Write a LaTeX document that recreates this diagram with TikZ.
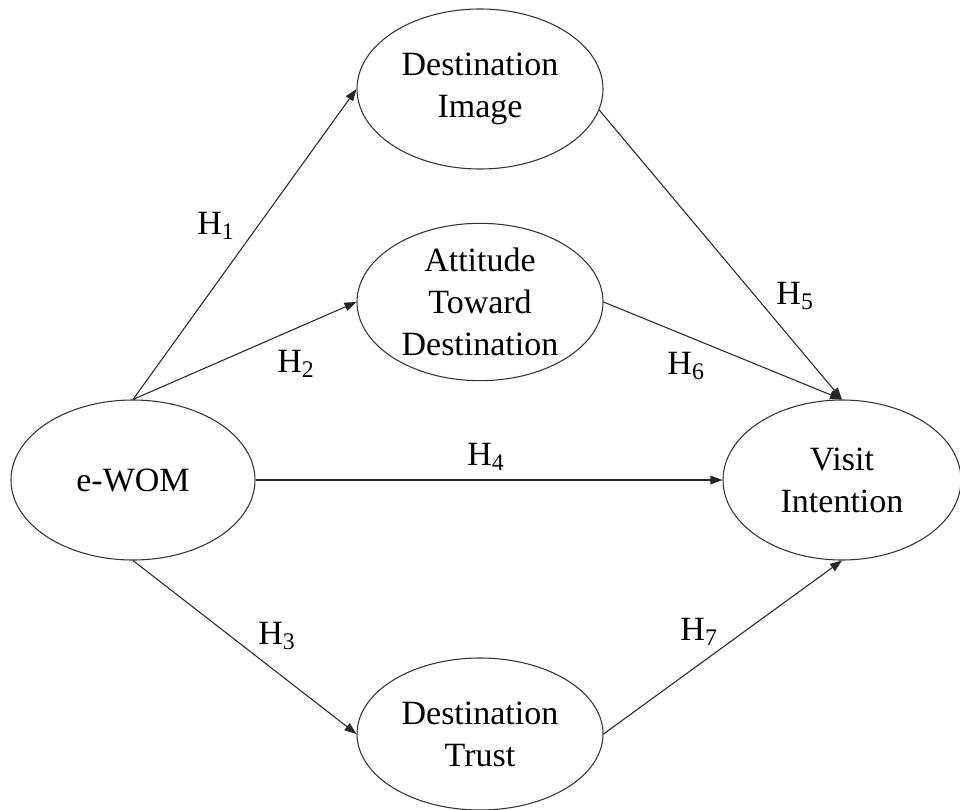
\documentclass[tikz,border=0pt]{standalone}
\usepackage{fontspec}
\setmainfont{Liberation Serif}
\usetikzlibrary{shapes.geometric,arrows.meta}
\tikzstyle{latent} = [ellipse, draw=black!80, line width=0.8pt, inner sep=-4pt, align=center, font=\fontsize{25.5}{31.5}\selectfont]
\tikzstyle{link} = [draw=black!85, line width=0.8pt, -{Triangle[length=9pt,width=6.5pt]}]
\tikzstyle{hyp} = [font=\fontsize{25.5}{31.5}\selectfont]

\begin{document}
\begin{tikzpicture}[x=0.75pt, y=-0.75pt]
\useasboundingbox (0,0) rectangle (960,810);
% Place nodes
\node [latent, minimum width=183pt, minimum height=120pt] (wom) at (133,480) {e-WOM};
\node [latent, minimum width=184.5pt, minimum height=120pt] (img) at (480,89) {Destination\\Image};
\node [latent, minimum width=184.5pt, minimum height=118pt] (att) at (480,302) {Attitude\\Toward\\Destination};
\node [latent, minimum width=184.5pt, minimum height=114pt] (trust) at (480,734) {Destination\\Trust};
\node [latent, minimum width=178.5pt, minimum height=120pt] (visit) at (842,480) {Visit\\Intention};
% Draw edges
\path [link] (wom.north) -- (img.west);
\path [link] (wom.north) -- (att.west);
\path [link] (wom.south) -- (trust.west);
\path [link] (wom.east) -- (visit.west);
\path [link] (img.-10) -- (visit.north);
\path [link] (att.east) -- (visit.north);
\path [link] (trust.east) -- (visit.south);
% Hypothesis labels
\node [hyp] (h1) at (216,226) {H\textsubscript{1}};
\node [hyp] (h2) at (296,364) {H\textsubscript{2}};
\node [hyp] (h3) at (277,636) {H\textsubscript{3}};
\node [hyp] (h4) at (486,457) {H\textsubscript{4}};
\node [hyp] (h5) at (795,296) {H\textsubscript{5}};
\node [hyp] (h6) at (686,366) {H\textsubscript{6}};
\node [hyp] (h7) at (699,632) {H\textsubscript{7}};
\end{tikzpicture}
\end{document}
